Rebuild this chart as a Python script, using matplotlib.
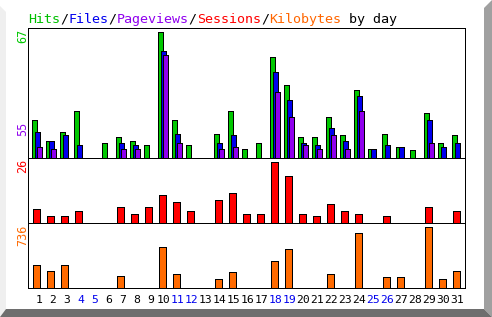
import matplotlib
matplotlib.use("Agg")
import matplotlib.pyplot as plt
from matplotlib.patches import Polygon
import numpy as np

days = [str(d) for d in range(1, 32)]
weekend_days = [4, 5, 11, 12, 18, 19, 25, 26]

hits = [20, 9, 14, 25, 0, 8, 11, 9, 7, 67, 20, 7, 0, 13, 25, 5, 8, 54, 39, 11,
        11, 22, 12, 36, 5, 13, 6, 4, 24, 8, 12]
files = [14, 9, 12, 7, 0, 0, 8, 7, 0, 57, 13, 0, 0, 8, 12, 0, 0, 46, 31, 8,
         7, 16, 9, 33, 5, 7, 6, 0, 20, 6, 8]
pageviews = [6, 5, 0, 0, 0, 0, 5, 5, 0, 55, 8, 0, 0, 5, 6, 0, 0, 35, 22, 7,
             5, 12, 5, 25, 0, 0, 0, 0, 8, 0, 0]
sessions = [6, 3, 3, 5, 0, 0, 7, 4, 7, 12, 9, 5, 0, 10, 13, 4, 4, 26, 20, 4,
            3, 8, 5, 4, 0, 3, 0, 0, 7, 0, 5]
kilobytes = [275, 202, 275, 0, 0, 0, 142, 0, 0, 493, 166, 0, 0, 105, 190, 0, 0,
             324, 469, 0, 0, 166, 0, 663, 0, 130, 130, 0, 736, 105, 202]

max_labels = ["67", "55", "26", "736"]

title_parts = [("Hits", "#00c000"), ("/", "black"), ("Files", "#0000ee"), ("/", "black"),
               ("Pageviews", "#9000ee"), ("/", "black"), ("Sessions", "#ff0000"),
               ("/", "black"), ("Kilobytes", "#ff6600"), (" by day", "black")]

C_HITS, C_FILES, C_PAGES, C_SESS, C_KB = "#00c800", "#0000ee", "#9000ee", "#ff0000", "#ff6a00"

W, H = 492, 317
fig = plt.figure(figsize=(W / 100, H / 100), dpi=100)
fig.patch.set_facecolor("white")

def fx(px):
    return px / W

def fy(py):
    return (H - py) / H

# frame / shadows
fig.patches.append(Polygon([[fx(0), fy(6)], [fx(6), fy(12)], [fx(6), fy(309)], [fx(0), fy(317)]],
                           closed=True, transform=fig.transFigure, facecolor="#efefef", edgecolor="none"))
fig.patches.append(Polygon([[fx(484), fy(8)], [fx(492), fy(0)], [fx(492), fy(317)], [fx(484), fy(309)]],
                           closed=True, transform=fig.transFigure, facecolor="#a0a0a0", edgecolor="none"))
fig.patches.append(Polygon([[fx(6), fy(309)], [fx(484), fy(309)], [fx(492), fy(317)], [fx(0), fy(317)]],
                           closed=True, transform=fig.transFigure, facecolor="#6e6e6e", edgecolor="none"))

left, right = 28, 465
panels = [(28, 158), (158, 223), (223, 288)]
axes = []
for top, bot in panels:
    ax = fig.add_axes([fx(left), fy(bot), fx(right) - fx(left), (bot - top) / H])
    ax.set_xlim(-0.607, 30.607)
    ax.set_xticks([])
    ax.set_yticks([])
    ax.set_facecolor("white")
    for s in ax.spines.values():
        s.set_color("black")
        s.set_linewidth(0.72)
        s.set_antialiased(False)
    axes.append(ax)

x = np.arange(len(days))
lw = 0.72
kw = dict(edgecolor="black", linewidth=lw, antialiased=False)
ax1, ax2, ax3 = axes
ax1.bar(x - 0.16, hits, width=0.37, color=C_HITS, **kw)
ax1.bar(x + 0.065, files, width=0.37, color=C_FILES, **kw)
ax1.bar(x + 0.20, pageviews, width=0.37, color=C_PAGES, **kw)
ax1.set_ylim(0, 69.3)

ax2.bar(x, sessions, width=0.53, color=C_SESS, **kw)
ax2.set_ylim(0, 27.84)

ax3.bar(x, kilobytes, width=0.53, color=C_KB, **kw)
ax3.set_ylim(0, 788)

mono = "DejaVu Sans Mono"

# title
cx = 28
for txt, col in title_parts:
    fig.text(fx(cx), fy(23), txt, color=col, fontsize=9.6, family=mono, ha="left", va="baseline")
    cx += 8.03 * len(txt)

# max labels
lab_pos = [(67, 29, C_HITS), (55, 122, C_PAGES), (26, 159, C_SESS), (736, 225, C_KB)]
for lab, (_, ytop, col) in zip(max_labels, lab_pos):
    fig.text(fx(22.5), fy(ytop), lab, color=col, fontsize=8.5, family=mono,
             rotation=90, ha="center", va="top")

# day labels
for i, d in enumerate(days):
    off = 2.5 if len(d) == 1 else 0.5
    xpx = 36.5 + 14 * i + off
    col = "#0000ee" if int(d) in weekend_days else "black"
    fig.text(fx(xpx), fy(303), d, color=col, fontsize=8.2, family=mono,
             ha="center", va="baseline")

fig.savefig("out.png", dpi=100, facecolor="white")
